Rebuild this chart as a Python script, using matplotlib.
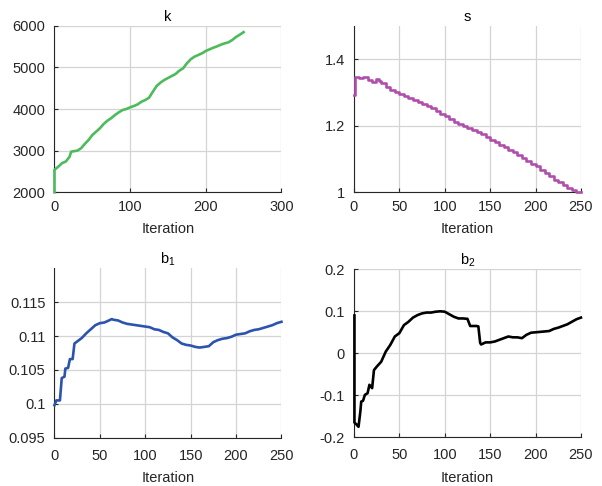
import numpy as np
import matplotlib
matplotlib.use("Agg")
import matplotlib.pyplot as plt

plt.rcParams['font.family'] = ['Liberation Sans', 'DejaVu Sans']
plt.rcParams['axes.unicode_minus'] = False
plt.rcParams['mathtext.fontset'] = 'custom'
plt.rcParams['mathtext.rm'] = 'Liberation Sans'
plt.rcParams['mathtext.it'] = 'Liberation Sans'

# ---------------- data ----------------
k_iter = [0, 0, 5, 10, 15, 20, 22] + list(range(25, 251, 5))
k_vals = [2000, 2540, 2615, 2700, 2740, 2855, 2975,
          2985, 3000, 3055, 3160, 3255, 3375, 3455, 3537, 3640, 3720,
          3780, 3856, 3920, 3975, 4000, 4040, 4072, 4112, 4175, 4216,
          4271, 4415, 4552, 4632, 4696, 4744, 4792, 4840, 4920, 4977,
          5097, 5193, 5256, 5297, 5337, 5393, 5433, 5472, 5505, 5545,
          5577, 5601, 5657, 5729, 5785, 5845]

s_iter = [0, 1, 5, 10, 15, 20, 24, 28] + list(range(30, 251, 5))
s_vals = [1.293, 1.346, 1.342, 1.345, 1.338, 1.330, 1.340, 1.335,
          1.328, 1.316, 1.308, 1.301, 1.295, 1.290, 1.283, 1.278, 1.272,
          1.266, 1.260, 1.253, 1.245, 1.236, 1.228, 1.220, 1.212, 1.205,
          1.198, 1.192, 1.186, 1.180, 1.174, 1.166, 1.158, 1.150, 1.142,
          1.135, 1.128, 1.121, 1.112, 1.104, 1.095, 1.086, 1.078, 1.068,
          1.058, 1.048, 1.038, 1.030, 1.021, 1.013, 1.006, 1.001, 1.000]

b1_iter = [0, 2, 6, 8, 11, 12, 15, 17, 20, 22, 25, 30, 35, 40, 45, 50, 55,
           60, 63, 65, 70, 75, 80, 85, 90, 95, 100, 105, 110, 115, 120, 125,
           130, 135, 140, 145, 150, 155, 160, 165, 170, 175, 180, 185, 190,
           195, 200, 205, 210, 215, 220, 225, 230, 235, 240, 245, 250]
b1_vals = [0.0998, 0.1005, 0.1005, 0.1038, 0.1040, 0.1052, 0.1053, 0.1066,
           0.1066, 0.1089, 0.1092, 0.1097, 0.1104, 0.1110, 0.1116, 0.1119,
           0.1120, 0.1123, 0.1125, 0.1124, 0.1123, 0.1120, 0.1118, 0.1117,
           0.1116, 0.1115, 0.1114, 0.1113, 0.1110, 0.1109, 0.1106, 0.1104,
           0.1098, 0.1094, 0.1089, 0.1087, 0.1086, 0.1084, 0.1083, 0.1084,
           0.1085, 0.1091, 0.1094, 0.1096, 0.1097, 0.1099, 0.1102, 0.1103,
           0.1104, 0.1107, 0.1109, 0.1110, 0.1112, 0.1114, 0.1116, 0.1119,
           0.1121]

b2_iter = [0.5, 0.5, 3, 5, 7, 8, 10, 12, 15, 17, 20, 22, 25, 30, 35, 40, 45, 50,
           55, 60, 65, 70, 75, 80, 85, 90, 95, 100, 105, 110, 115, 120, 125,
           128, 135, 137, 139, 140, 145, 150, 155, 160, 165, 170, 175, 180,
           185, 190, 195, 200, 205, 210, 215, 220, 225, 230, 235, 240, 245, 250]
b2_vals = [0.090, -0.165, -0.170, -0.175, -0.139, -0.115, -0.113, -0.099,
           -0.095, -0.075, -0.083, -0.040, -0.032, -0.020, 0.004, 0.020,
           0.040, 0.048, 0.067, 0.075, 0.085, 0.091, 0.095, 0.097, 0.097,
           0.099, 0.100, 0.099, 0.093, 0.087, 0.083, 0.083, 0.082, 0.065,
           0.065, 0.064, 0.025, 0.021, 0.026, 0.026, 0.028, 0.032, 0.036,
           0.040, 0.038, 0.038, 0.036, 0.044, 0.049, 0.050, 0.051, 0.052,
           0.053, 0.058, 0.061, 0.065, 0.069, 0.075, 0.081, 0.085]

# ---------------- figure ----------------
fig = plt.figure(figsize=(6.02, 4.86), dpi=100)

W = 0.377
axes_spec = [
    ([0.0905, 0.6043, W, 0.3428], k_iter, k_vals, '#4DBB5B', 'k',
     (0, 300), [0, 100, 200, 300],
     (2000, 6000), [2000, 3000, 4000, 5000, 6000],
     ['2000', '3000', '4000', '5000', '6000'], None, 5.5),
    ([0.588, 0.6043, W, 0.3428], s_iter, s_vals, '#B04FAB', 's',
     (0, 250), [0, 50, 100, 150, 200, 250],
     (1, 1.5), [1, 1.2, 1.4], ['1', '1.2', '1.4'], 'steps-post', 5.5),
    ([0.0905, 0.0994, W, 0.3486], b1_iter, b1_vals, '#2C54AE', r'b$_1$',
     (0, 250), [0, 50, 100, 150, 200, 250],
     (0.095, 0.12), [0.095, 0.1, 0.105, 0.11, 0.115],
     ['0.095', '0.1', '0.105', '0.11', '0.115'], None, 8),
    ([0.588, 0.1002, W, 0.3457], b2_iter, b2_vals, '#000000', r'b$_2$',
     (0, 250), [0, 50, 100, 150, 200, 250],
     (-0.2, 0.2), [-0.2, -0.1, 0, 0.1, 0.2],
     ['-0.2', '-0.1', '0', '0.1', '0.2'], None, 8),
]

axis_col = '#262626'
for (pos, xs, ys, col, title, xlim, xt, ylim, yt, ytl, ds, xpad) in axes_spec:
    ax = fig.add_axes(pos)
    kw = {}
    if ds:
        kw['drawstyle'] = ds
    ax.plot(xs, ys, color=col, lw=1.9, clip_on=False, zorder=3, **kw)
    ax.set_xlim(*xlim)
    ax.set_ylim(*ylim)
    ax.set_xticks(xt)
    ax.set_xticklabels([str(v) for v in xt])
    ax.set_yticks(yt)
    ax.set_yticklabels(ytl)
    ax.grid(True, color='#d4d4d4', lw=0.9)
    ax.set_axisbelow(True)
    for sp in ['top', 'right']:
        ax.spines[sp].set_visible(False)
    for sp in ['left', 'bottom']:
        ax.spines[sp].set_color(axis_col)
        ax.spines[sp].set_linewidth(0.8)
    ax.tick_params(direction='in', length=3, width=0.8, colors=axis_col,
                   labelsize=10.5, labelcolor='#262626')
    ax.tick_params(axis='x', pad=xpad)
    ax.tick_params(axis='y', pad=6.5)
    ax.set_title(title, fontsize=10.5, color='#000000', pad=3.5)
    ax.set_xlabel('Iteration', fontsize=10.5, color='#262626', labelpad=6)

fig.savefig('out.png', dpi=100)
